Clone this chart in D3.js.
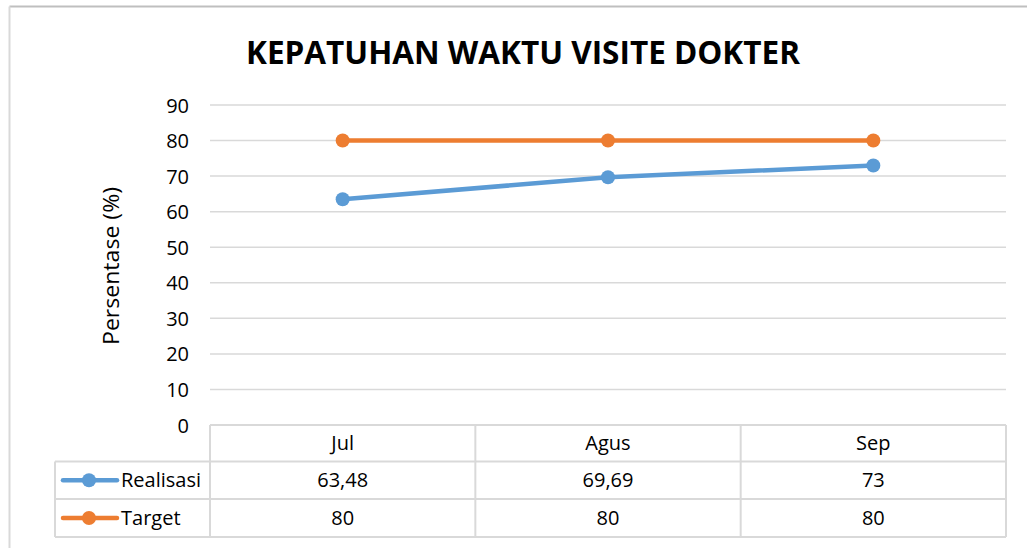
<!DOCTYPE html>
<html><head><meta charset="utf-8">
<script src="https://cdn.jsdelivr.net/npm/d3@7"></script>
<style>html,body{margin:0;padding:0;background:#fff;}svg{display:block;}</style>
</head><body>
<script>
const categories = ["Jul", "Agus", "Sep"];
const realisasi = [63.48, 69.69, 73];
const target = [80, 80, 80];
const realisasiLabels = ["63,48", "69,69", "73"];
const targetLabels = ["80", "80", "80"];
const yTicks = [0, 10, 20, 30, 40, 50, 60, 70, 80, 90];
const seriesNames = ["Realisasi", "Target"];
const colors = ["#5B9BD5", "#ED7D31"];

const W = 1027, H = 548;
const svg = d3.select("body").append("svg").attr("width", W).attr("height", H);
const font = "'Open Sans', sans-serif";

// outer frame
svg.append("line").attr("x1", 9.5).attr("x2", W).attr("y1", 6.5).attr("y2", 6.5).attr("stroke", "#bfbfbf").attr("stroke-width", 2);
svg.append("line").attr("x1", 9.5).attr("x2", 9.5).attr("y1", 6.5).attr("y2", H).attr("stroke", "#d9d9d9").attr("stroke-width", 2);

const x = d3.scaleBand().domain(categories).range([210, 1006]);
const y = d3.scaleLinear().domain([0, 90]).range([425, 105]);

// title
svg.append("text").attr("x", 523).attr("y", 64).attr("text-anchor", "middle")
  .attr("font-family", font).attr("font-weight", "bold").attr("font-size", 33)
  .attr("textLength", 554).attr("lengthAdjust", "spacingAndGlyphs")
  .attr("fill", "#000").text("KEPATUHAN WAKTU VISITE DOKTER");

// gridlines
svg.append("g").selectAll("line").data(yTicks.filter(d => d > 0)).join("line")
  .attr("x1", 210).attr("x2", 1006).attr("y1", d => y(d)).attr("y2", d => y(d))
  .attr("stroke", "#d9d9d9").attr("stroke-width", 1.5);

// y axis labels
const yAxis = d3.axisLeft(y).tickValues(yTicks).tickSize(0).tickPadding(0);
const gy = svg.append("g").attr("transform", "translate(189,0)").call(yAxis);
gy.select(".domain").remove();
gy.selectAll("text").attr("font-family", font).attr("font-size", 20).attr("fill", "#000").attr("dy", "0.35em");

// y title
svg.append("text").attr("transform", "translate(119,266) rotate(-90)").attr("text-anchor", "middle")
  .attr("font-family", font).attr("font-size", 21).attr("fill", "#000")
  .attr("textLength", 158).attr("lengthAdjust", "spacingAndGlyphs").text("Persentase (%)");

// lines
const cx = c => x(c) + x.bandwidth() / 2;
[realisasi, target].forEach((vals, i) => {
  const pts = categories.map((c, j) => [cx(c), y(vals[j])]);
  svg.append("path").attr("d", d3.line()(pts)).attr("fill", "none")
    .attr("stroke", colors[i]).attr("stroke-width", 4.5).attr("stroke-linecap", "round");
  svg.append("g").selectAll("circle").data(pts).join("circle")
    .attr("cx", d => d[0]).attr("cy", d => d[1]).attr("r", 7).attr("fill", colors[i]);
});

// data table
const rowY = [425, 461.5, 499, 537];
const tcol = "#d9d9d9";
const tg = svg.append("g").attr("stroke", tcol).attr("stroke-width", 2);
// horizontal lines
tg.append("line").attr("x1", 210).attr("x2", 1006).attr("y1", rowY[0]).attr("y2", rowY[0]);
[1, 2, 3].forEach(k => tg.append("line").attr("x1", 55).attr("x2", 1006).attr("y1", rowY[k]).attr("y2", rowY[k]));
// vertical lines
const vx = [210].concat(categories.map(c => x(c) + x.bandwidth()));
vx.forEach(v => tg.append("line").attr("x1", v).attr("x2", v).attr("y1", rowY[0]).attr("y2", rowY[3]));
tg.append("line").attr("x1", 55).attr("x2", 55).attr("y1", rowY[1]).attr("y2", rowY[3]);

const txt = (xx, yy, s, anchor) => svg.append("text").attr("x", xx).attr("y", yy)
  .attr("text-anchor", anchor || "middle").attr("dy", "0.35em")
  .attr("font-family", font).attr("font-size", 20).attr("fill", "#000").text(s);

categories.forEach((c, j) => {
  txt(cx(c), (rowY[0] + rowY[1]) / 2, c);
  txt(cx(c), (rowY[1] + rowY[2]) / 2, realisasiLabels[j]);
  txt(cx(c), (rowY[2] + rowY[3]) / 2, targetLabels[j]);
});

seriesNames.forEach((n, i) => {
  const yy = (rowY[i + 1] + rowY[i + 2]) / 2;
  svg.append("line").attr("x1", 63).attr("x2", 117).attr("y1", yy).attr("y2", yy)
    .attr("stroke", colors[i]).attr("stroke-width", 4.5).attr("stroke-linecap", "round");
  svg.append("circle").attr("cx", 89).attr("cy", yy).attr("r", 7).attr("fill", colors[i]);
  txt(121, yy, n, "start");
});
</script>
</body></html>
